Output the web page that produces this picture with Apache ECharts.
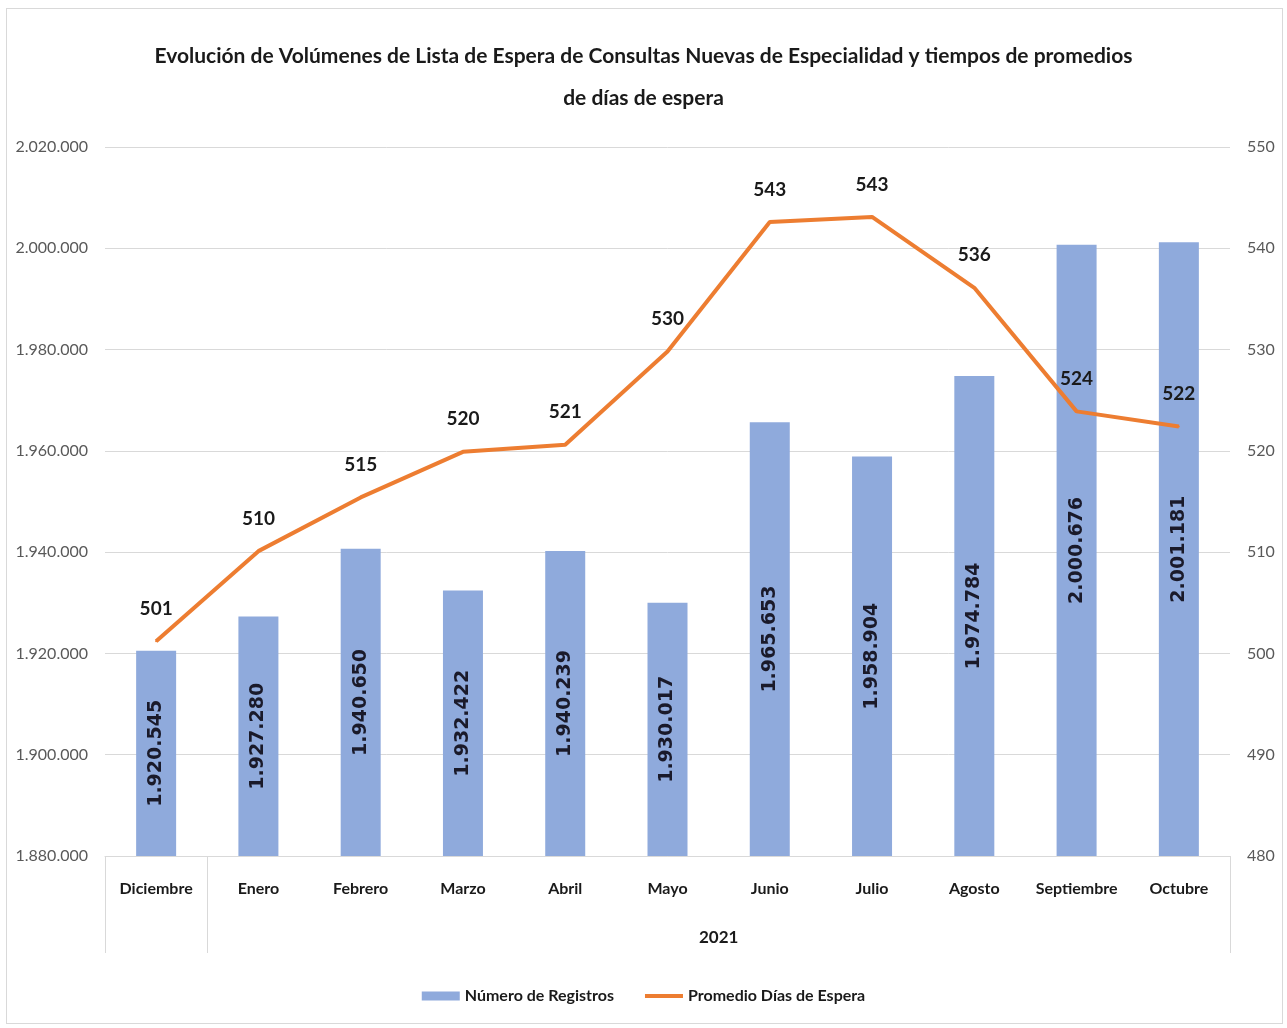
<!DOCTYPE html>
<html><head><meta charset="utf-8">
<script src="https://cdn.jsdelivr.net/npm/echarts@6/dist/echarts.min.js"></script>
<style>
html,body{margin:0;padding:0;background:#fff}
#c{width:1287px;height:1028px}
#frame{position:absolute;left:6px;top:8px;width:1277px;height:1016px;border:1px solid #d9d9d9;pointer-events:none;box-sizing:border-box}
</style>
</head><body><div id="c"></div><div id="frame"></div>
<script>
const categories = ['Diciembre','Enero','Febrero','Marzo','Abril','Mayo','Junio','Julio','Agosto','Septiembre','Octubre'];
const registros = [1920545,1927280,1940650,1932422,1940239,1930017,1965653,1958904,1974784,2000676,2001181];
const promedioDias = [501.2,510.1,515.4,519.9,520.6,529.8,542.6,543.1,536.1,523.9,522.4];
const yearLabel = '2021';
const yearSpan = [1, 11];
const seriesNames = ['Número de Registros','Promedio Días de Espera'];
const titleText = 'Evolución de Volúmenes de Lista de Espera de Consultas Nuevas de Especialidad y tiempos de promedios\nde días de espera';

const FONT = "Lato,'Liberation Sans',Arial,sans-serif";
const fmtDots = v => String(Math.round(v)).replace(/\B(?=(\d{3})+(?!\d))/g, '.');

const chart = echarts.init(document.getElementById('c'), null, {renderer:'canvas'});
chart.setOption({
  backgroundColor:'#fff',
  animation:false,
  title:{
    text:titleText, left:'center', top:30,
    textStyle:{fontFamily:FONT, fontWeight:'bold', fontSize:21, color:'#1a1a1a', lineHeight:42}
  },
  legend:{
    top:983, left:'center', itemGap:31, itemWidth:38, itemHeight:9,
    textStyle:{fontFamily:FONT, fontWeight:'bold', fontSize:16, color:'#1a1a1a'},
    data:[
      {name:seriesNames[0], icon:'rect'},
      {name:seriesNames[1], icon:'path://M0 0H40V4H0Z'}
    ]
  },
  grid:{left:105, right:57, top:147, bottom:172, containLabel:false},
  xAxis:[
    {
      type:'category', data:categories, position:'bottom',
      axisLine:{lineStyle:{color:'#d9d9d9', width:1}},
      axisTick:{show:false},
      axisLabel:{fontFamily:FONT, fontWeight:'bold', fontSize:16, color:'#1a1a1a', margin:25, interval:0}
    },
    {
      type:'value', min:0, max:categories.length, position:'bottom',
      axisLine:{show:false},
      splitLine:{show:false},
      axisTick:{show:true, customValues:[0, yearSpan[0], yearSpan[1]], length:97, lineStyle:{color:'#d9d9d9', width:1}},
      axisLabel:{customValues:[(yearSpan[0]+yearSpan[1])/2], formatter:()=>yearLabel, fontFamily:FONT, fontWeight:'bold', fontSize:17, color:'#1a1a1a', margin:73}
    }
  ],
  yAxis:[
    {
      type:'value', min:1880000, max:2020000, interval:20000,
      axisLine:{show:false}, axisTick:{show:false},
      splitLine:{lineStyle:{color:'#d9d9d9', width:1}},
      axisLabel:{formatter:fmtDots, fontFamily:FONT, fontSize:16, color:'#595959', margin:17}
    },
    {
      type:'value', min:480, max:550, interval:10, position:'right',
      axisLine:{show:false}, axisTick:{show:false}, splitLine:{show:false},
      axisLabel:{fontFamily:FONT, fontSize:16, color:'#595959', margin:17}
    }
  ],
  series:[
    {
      name:seriesNames[0], type:'bar', xAxisIndex:0, yAxisIndex:0,
      data:registros, barWidth:40,
      itemStyle:{color:'#8faadc'},
      label:{show:true, position:'inside', rotate:90, formatter:p=>fmtDots(p.value),
        fontFamily:"'DejaVu Sans',sans-serif", fontWeight:'bold', fontSize:19, color:'#1a1a2a'}
    },
    {
      name:seriesNames[1], type:'line', xAxisIndex:0, yAxisIndex:1,
      data:promedioDias, symbol:'circle', symbolSize:2,
      lineStyle:{color:'#ed7d31', width:4}, itemStyle:{color:'#ed7d31'},
      label:{show:true, position:'top', distance:22, formatter:p=>String(Math.round(p.value)),
        fontFamily:FONT, fontWeight:'bold', fontSize:19, color:'#1a1a1a'},
      z:5
    }
  ]
});
</script></body></html>
